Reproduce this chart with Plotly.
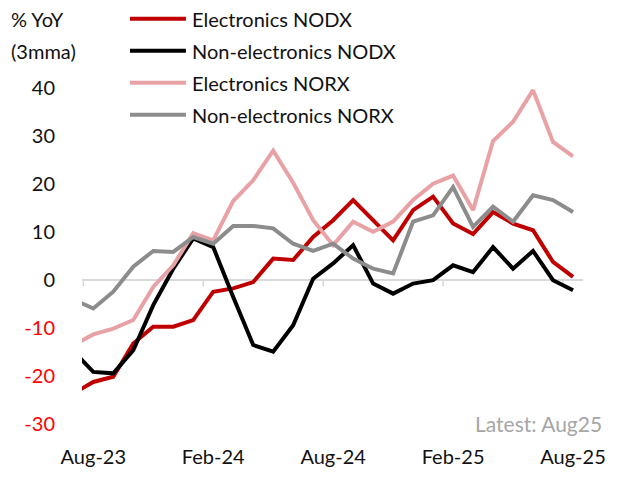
import plotly.graph_objects as go

# ---------------- data (3mma, % YoY), Jul-23 .. Aug-25 ----------------
months = ["Jul-23", "Aug-23", "Sep-23", "Oct-23", "Nov-23", "Dec-23",
          "Jan-24", "Feb-24", "Mar-24", "Apr-24", "May-24", "Jun-24",
          "Jul-24", "Aug-24", "Sep-24", "Oct-24", "Nov-24", "Dec-24",
          "Jan-25", "Feb-25", "Mar-25", "Apr-25", "May-25", "Jun-25",
          "Jul-25", "Aug-25"]

elec_nodx = [-23.6, -21.2, -20.1, -13.2, -9.7, -9.7, -8.3, -2.4, -1.7, -0.4,
             4.5, 4.2, 9.0, 12.5, 16.7, 12.5, 8.3, 14.6, 17.4, 11.8,
             9.6, 14.2, 11.8, 10.4, 3.8, 0.7]
nonelec_nodx = [-14.8, -19.1, -19.4, -14.6, -5.2, 2.4, 8.7, 6.9, -3.5, -13.5,
                -14.9, -9.4, 0.3, 3.5, 7.3, -0.7, -2.8, -0.7, 0.0, 3.1,
                1.7, 6.9, 2.4, 6.1, 0.0, -2.1]
elec_norx = [-13.5, -11.3, -10.1, -8.3, -1.4, 3.1, 9.8, 8.3, 16.5, 20.8,
             27.0, 20.3, 12.5, 7.3, 12.2, 10.1, 12.2, 16.7, 20.1, 21.8,
             14.6, 29.0, 33.0, 39.6, 28.8, 25.8]
nonelec_norx = [-4.0, -5.9, -2.4, 2.8, 6.1, 5.9, 9.0, 7.6, 11.3, 11.3,
                10.8, 7.6, 6.1, 7.6, 4.5, 2.4, 1.4, 12.2, 13.5, 19.4,
                11.1, 15.3, 12.2, 17.7, 16.7, 14.2]

series_names = ["Electronics NODX", "Non-electronics NODX",
                "Electronics NORX", "Non-electronics NORX"]
series_values = [elec_nodx, nonelec_nodx, elec_norx, nonelec_norx]
series_colors = ["#C00000", "#000000", "#E8A2A6", "#8C8C8C"]

x_labels = ["Aug-23", "Feb-24", "Aug-24", "Feb-25", "Aug-25"]
y_ticks = [-30, -20, -10, 0, 10, 20, 30, 40]

# ---------------- geometry ----------------
W, H = 620, 477
L, R, T, B = 82.0, 583.3, 81.3, 429.3
FONT = "Lato"
FS = 20
TXT = "#111111"

idx = {m: i - 1 for i, m in enumerate(months)}   # Aug-23 -> 0
xs = [idx[m] for m in months]


def px(xp):
    return (xp - L) / (R - L)


def py(yp):
    return (B - yp) / (B - T)


fig = go.Figure()
for name, vals, col in zip(series_names, series_values, series_colors):
    fig.add_trace(go.Scatter(x=xs, y=vals, mode="lines", name=name,
                             line=dict(color=col, width=4),
                             showlegend=False, hoverinfo="skip"))

shapes = []
# small tick marks on the zero line (every 6 months)
for t in [-0.5, 5.5, 11.5, 17.5, 23.5]:
    shapes.append(dict(type="line", xref="x", yref="y", x0=t, x1=t,
                       y0=0, y1=-1.3, line=dict(color="#D9D9D9", width=1.5),
                       layer="below"))

annotations = []
# legend drawn at the top-left
leg_rows = [19, 51, 83, 115]
for name, col, yr in zip(series_names, series_colors, leg_rows):
    shapes.append(dict(type="line", xref="paper", yref="paper",
                       x0=px(130), x1=px(186), y0=py(yr), y1=py(yr),
                       line=dict(color=col, width=4)))
    annotations.append(dict(text=name, xref="paper", yref="paper",
                            x=px(190), y=py(yr), xanchor="left",
                            yanchor="middle", showarrow=False,
                            font=dict(family=FONT, size=FS, color=TXT)))

annotations.append(dict(text="% YoY", xref="paper", yref="paper",
                        x=px(9), y=py(19), xanchor="left", yanchor="middle",
                        showarrow=False,
                        font=dict(family=FONT, size=FS, color=TXT)))
annotations.append(dict(text="(3mma)", xref="paper", yref="paper",
                        x=px(9), y=py(51), xanchor="left", yanchor="middle",
                        showarrow=False,
                        font=dict(family=FONT, size=FS, color=TXT)))
annotations.append(dict(text="Latest: Aug25", xref="paper", yref="paper",
                        x=px(604), y=py(424), xanchor="right",
                        yanchor="middle", showarrow=False,
                        font=dict(family=FONT, size=21, color="#A6A6A6")))

y_text = [('<span style="color:#FF0000">%d</span>' % v) if v < 0 else str(v)
          for v in y_ticks]

fig.update_layout(
    width=W, height=H,
    margin=dict(l=L, r=W - R, t=T, b=H - B, pad=0, autoexpand=False),
    paper_bgcolor="white", plot_bgcolor="white",
    font=dict(family=FONT, size=FS, color=TXT),
    xaxis=dict(range=[-0.565, 24.5], showgrid=False, zeroline=False,
               showline=False, ticks="",
               tickvals=[idx[m] for m in x_labels], ticktext=x_labels,
               tickfont=dict(family=FONT, size=FS, color=TXT),
               ticklabelstandoff=14, fixedrange=True),
    yaxis=dict(range=[-31, 41.5], showgrid=False, zeroline=True,
               zerolinecolor="#D9D9D9", zerolinewidth=1.5,
               showline=False, ticks="", tickvals=y_ticks, ticktext=y_text,
               tickfont=dict(family=FONT, size=FS, color=TXT),
               ticklabelstandoff=26, fixedrange=True),
    shapes=shapes, annotations=annotations,
    showlegend=False,
)

fig.write_html(
    "out.html",
    config={"displayModeBar": False},
    post_script="document.body.style.margin='0';"
                "document.body.style.overflow='hidden';",
)
